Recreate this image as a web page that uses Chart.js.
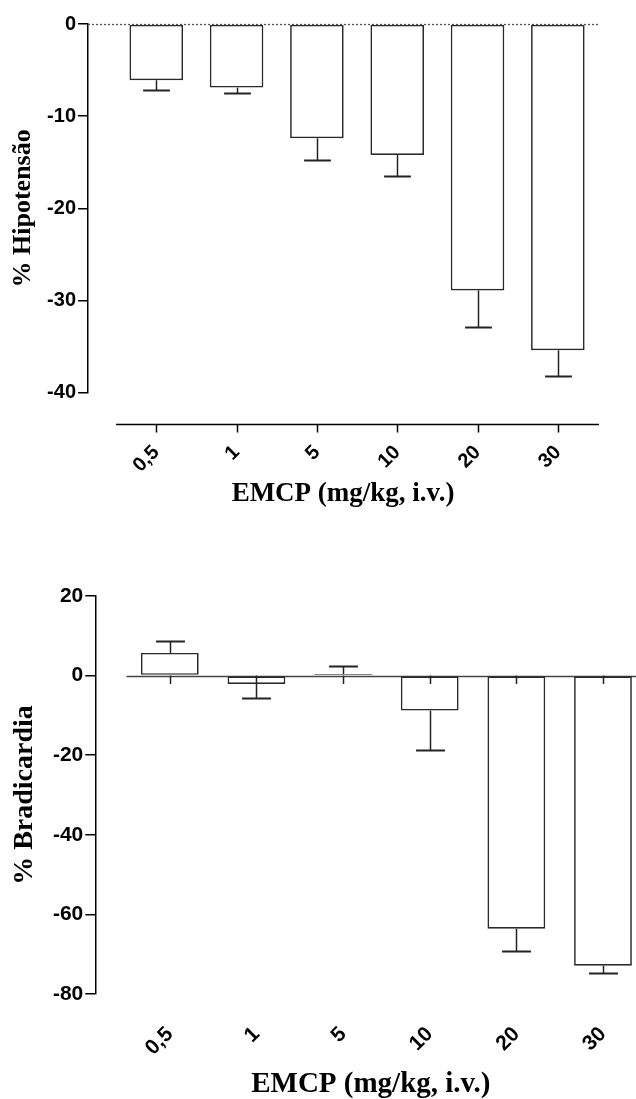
<!DOCTYPE html>
<html>
<head>
<meta charset="utf-8">
<script src="https://cdn.jsdelivr.net/npm/chart.js@4.4.0/dist/chart.umd.min.js"></script>
<style>
  html, body { margin: 0; padding: 0; background: #fff; overflow: hidden; width: 636px; height: 1099px; }
  #hipoChart  { position: absolute; left: 0; top: 0; }
  #bradiChart { position: absolute; left: 0; top: 560px; }
</style>
</head>
<body>
<canvas id="hipoChart" width="636" height="540"></canvas>
<canvas id="bradiChart" width="660" height="539"></canvas>
<script>
/* ── DATA ── */
var doses = ['0,5', '1', '5', '10', '20', '30'];

// % hipotensão, mean and SEM per dose
var hipoMean  = [-6.1, -6.9, -12.4, -14.2, -28.9, -35.4];
var hipoSem   = [1.1, 0.6, 2.4, 2.3, 4.0, 2.8];
var hipoTicks = [0, -10, -20, -30, -40];

// % bradicardia, mean and SEM per dose, plus the uncapped baseline whisker
var bradiMean    = [5.7, -2.1, 0.4, -8.8, -63.6, -72.9];
var bradiSem     = [3.1, 3.5, 2.1, 9.8, 5.7, 1.7];
var bradiBaseSem = [2.1, 2.1, 2.1, 2.1, 2.1, 2.1];
var bradiTicks   = [20, 0, -20, -40, -60, -80];

Chart.defaults.font.family = '"Liberation Sans", Arial, sans-serif';
Chart.defaults.font.weight = 'bold';
Chart.defaults.color = '#000';

/* ── ZERO LINE, DETACHED X AXIS, ERROR BARS ── */
var barMarks = {
  id: 'barMarks',
  beforeDatasetsDraw: function (chart, args, o) {
    var ctx = chart.ctx, a = chart.chartArea;
    var xs = chart.scales.x, ys = chart.scales.y;
    var y0 = Math.round(ys.getPixelForValue(0)) + 0.5;
    ctx.save();
    ctx.strokeStyle = o.zeroColor;
    ctx.lineWidth = o.zeroWidth;
    ctx.setLineDash(o.zeroDash);
    ctx.beginPath();
    ctx.moveTo(o.zeroFromAxis ? a.left : xs.getPixelForValue(-0.5), y0);
    ctx.lineTo(a.right + 2, y0);
    ctx.stroke();
    ctx.setLineDash([]);

    if (o.axisGap) {
      var ya = Math.round(a.bottom + o.axisGap) + 0.5;
      ctx.strokeStyle = '#000';
      ctx.lineWidth = 1.5;
      ctx.beginPath();
      ctx.moveTo(xs.getPixelForValue(-0.5), ya);
      ctx.lineTo(xs.getPixelForValue(doses.length - 0.5) + 1, ya);
      for (var i = 0; i < doses.length; i++) {
        var xt = Math.round(xs.getPixelForValue(i)) + 0.5;
        ctx.moveTo(xt, ya);
        ctx.lineTo(xt, ya + 8);
      }
      ctx.stroke();
    }
    ctx.restore();
  },
  afterDatasetsDraw: function (chart, args, o) {
    var ctx = chart.ctx, ys = chart.scales.y;
    var meta = chart.getDatasetMeta(0);
    var pts = chart.data.datasets[0].data;
    ctx.save();
    ctx.strokeStyle = '#222';
    for (var i = 0; i < meta.data.length; i++) {
      var bar = meta.data[i];
      var m = pts[i].y, e = o.sem[i];
      var x = Math.round(bar.x) + 0.5;
      var end = ys.getPixelForValue(m);
      var tip = Math.round(ys.getPixelForValue(m >= 0 ? m + e : m - e)) + 0.5;
      var half = bar.width / 4;

      ctx.lineWidth = 1.5;
      ctx.beginPath();
      ctx.moveTo(x, end);
      ctx.lineTo(x, tip);
      ctx.stroke();

      ctx.lineWidth = 2;
      ctx.beginPath();
      ctx.moveTo(x - half, tip);
      ctx.lineTo(x + half, tip);
      ctx.stroke();

      if (o.baseSem) {
        ctx.lineWidth = 1.5;
        ctx.beginPath();
        ctx.moveTo(x, ys.getPixelForValue(0));
        ctx.lineTo(x, ys.getPixelForValue(-o.baseSem[i]));
        ctx.stroke();
      }
    }
    ctx.restore();
  }
};

/* ── CHART BUILDER ── */
function doseChart(canvasId, p) {
  var tickVals = p.ticks.slice().sort(function (a, b) { return a - b; });
  var xMax = doses.length - 0.5;
  return new Chart(document.getElementById(canvasId), {
    type: 'bar',
    data: {
      datasets: [{
        data: p.mean.map(function (v, i) { return { x: i, y: v }; }),
        backgroundColor: '#fff',
        borderColor: '#2a2a2a',
        borderWidth: 1.7,
        borderSkipped: false,
        categoryPercentage: 1,
        barPercentage: 0.667
      }]
    },
    options: {
      responsive: false,
      animation: false,
      devicePixelRatio: 1,
      layout: { padding: p.pad },
      plugins: {
        legend: { display: false },
        tooltip: { enabled: false },
        barMarks: {
          sem: p.sem,
          baseSem: p.baseSem || null,
          zeroColor: p.zeroColor,
          zeroWidth: p.zeroWidth,
          zeroDash: p.zeroDash,
          zeroFromAxis: p.zeroFromAxis,
          axisGap: p.axisGap || 0
        }
      },
      scales: {
        x: {
          type: 'linear',
          offset: false,
          bounds: 'data',
          min: p.xMin,
          max: xMax,
          afterBuildTicks: function (s) {
            s.min = p.xMin;
            s.max = xMax;
            s.ticks = doses.map(function (d, i) { return { value: i }; });
          },
          afterFit: function (s) {
            s.height = p.xHeight;
            s.paddingLeft = 0;
            s.paddingRight = 0;
          },
          ticks: {
            autoSkip: false,
            minRotation: 45,
            maxRotation: 45,
            padding: p.xLabelPad,
            font: { size: p.xTickSize, weight: 'bold' },
            callback: function (v) { return doses[v]; }
          },
          grid: { display: false, drawTicks: false, offset: false },
          border: { display: false },
          title: {
            display: true,
            text: 'EMCP (mg/kg, i.v.)',
            color: '#000',
            font: { family: '"Liberation Serif", "Times New Roman", serif', size: p.xTitleSize, weight: 'bold', lineHeight: 1 },
            padding: { top: 0, bottom: p.xTitlePad }
          }
        },
        y: {
          bounds: 'data',
          min: tickVals[0],
          max: tickVals[tickVals.length - 1],
          afterBuildTicks: function (s) {
            s.min = tickVals[0];
            s.max = tickVals[tickVals.length - 1];
            s.ticks = tickVals.map(function (v) { return { value: v }; });
          },
          afterFit: function (s) { s.width = p.yWidth; },
          ticks: { padding: 2, font: { size: p.yTickSize, weight: 'bold' } },
          grid: { drawOnChartArea: false, tickLength: 10, color: '#000', lineWidth: 1.5 },
          border: { color: '#000', width: 1.5 },
          title: {
            display: true,
            text: p.yTitle,
            color: '#000',
            font: { family: '"Liberation Serif", "Times New Roman", serif', size: p.yTitleSize, weight: 'bold', lineHeight: 1 },
            padding: { top: p.yTitlePad, bottom: 0 }
          }
        }
      }
    },
    plugins: [barMarks]
  });
}

/* ── BOOT ── */
doseChart('hipoChart', {
  mean: hipoMean, sem: hipoSem, ticks: hipoTicks,
  yTitle: '% Hipotensão',
  pad: { top: 24, right: 38, bottom: 0, left: 0 },
  xMin: -0.85, yWidth: 88, xHeight: 147.3,
  xLabelPad: 48, xTickSize: 20, xTitleSize: 27, xTitlePad: 32,
  yTickSize: 20, yTitleSize: 26, yTitlePad: 10,
  zeroColor: '#555', zeroWidth: 1.3, zeroDash: [2, 2], zeroFromAxis: true,
  axisGap: 31
});

doseChart('bradiChart', {
  mean: bradiMean, sem: bradiSem, baseSem: bradiBaseSem, ticks: bradiTicks,
  yTitle: '% Bradicardia',
  pad: { top: 36, right: 13.7, bottom: 0, left: 0 },
  xMin: -0.86, yWidth: 95.3, xHeight: 105,
  xLabelPad: 28, xTickSize: 21, xTitleSize: 29, xTitlePad: 0,
  yTickSize: 21, yTitleSize: 28, yTitlePad: 11,
  zeroColor: '#444', zeroWidth: 1.5, zeroDash: [], zeroFromAxis: false
});
</script>
</body>
</html>
